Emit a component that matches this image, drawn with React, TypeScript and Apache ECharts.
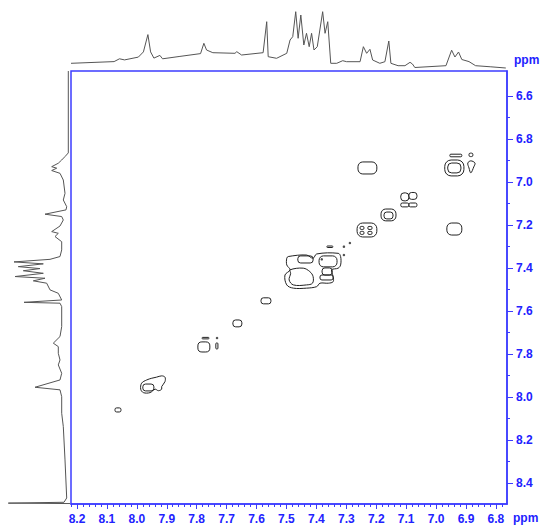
import React, { useEffect, useRef } from "react";
import * as echarts from "echarts";

// Axis ranges (ppm) of the 2D frame
const X_LEFT = 8.22;
const X_RIGHT = 6.763;
const Y_TOP = 6.484;
const Y_BOTTOM = 8.498;

// Tick labels
const xTickLabels = [8.2, 8.1, 8.0, 7.9, 7.8, 7.7, 7.6, 7.5, 7.4, 7.3, 7.2, 7.1, 7.0, 6.9, 6.8];
const yTickLabels = [6.6, 6.8, 7.0, 7.2, 7.4, 7.6, 7.8, 8.0, 8.2, 8.4];

// Top projection (F2): [ppm, intensity]
const topSpectrum: [number, number][] = [
  [8.22, 7.7], [8.076, 9.4], [8.058, 12.2], [8.041, 11.1], [7.995, 13.9], [7.978, 19.1],
  [7.963, 36.4], [7.954, 19.1], [7.943, 12.9], [7.923, 15.6], [7.914, 12.2], [7.856, 14.6],
  [7.787, 17.4], [7.776, 27.7], [7.767, 21], [7.746, 18.3], [7.672, 17.7], [7.666, 19.3],
  [7.65, 16], [7.578, 18.3], [7.566, 49.3], [7.561, 14.3], [7.533, 12.7], [7.499, 17.7],
  [7.488, 31], [7.479, 34.3], [7.469, 59.3], [7.461, 32.7], [7.452, 56], [7.442, 26],
  [7.433, 37.7], [7.424, 24.3], [7.416, 37.7], [7.408, 21], [7.397, 24.3], [7.379, 59.3],
  [7.371, 37.7], [7.362, 49.3], [7.352, 7.7], [7.332, 7.7], [7.312, 10.3], [7.299, 9.3],
  [7.254, 9.3], [7.243, 24.3], [7.232, 17.7], [7.221, 21.7], [7.212, 11], [7.188, 7.7],
  [7.171, 9.3], [7.158, 30], [7.151, 7.7], [7.127, 5.3], [7.104, 5.3], [7.087, 8.7],
  [7.079, 7], [7.071, 3.5], [6.967, 5.3], [6.948, 20.8], [6.937, 14], [6.925, 19],
  [6.914, 11.5], [6.89, 9.4], [6.868, 5.3], [6.817, 4.2], [6.767, 3],
];

// Left projection (F1): [ppm, intensity]
const leftSpectrum: [number, number][] = [
  [6.484, 2.7], [6.865, 2.7], [6.882, 6], [6.898, 9.3], [6.913, 12.7], [6.929, 19.3],
  [6.936, 14.3], [6.947, 19.3], [6.96, 11], [6.991, 7.7], [7.053, 6], [7.084, 7.7],
  [7.115, 4.3], [7.13, 5], [7.15, 26], [7.161, 9.3], [7.177, 7.7], [7.205, 11],
  [7.231, 19.3], [7.239, 12.7], [7.254, 16], [7.278, 9.3], [7.316, 9.3], [7.347, 11],
  [7.36, 21], [7.372, 57], [7.381, 27.7], [7.394, 52.7], [7.403, 31], [7.413, 47.7],
  [7.425, 27.7], [7.44, 56], [7.448, 26], [7.46, 37.7], [7.471, 24.3], [7.502, 21],
  [7.518, 12.7], [7.549, 9.3], [7.56, 47], [7.564, 11], [7.58, 9.3], [7.673, 9.3],
  [7.719, 11], [7.75, 17.7], [7.766, 12.7], [7.797, 12.7], [7.828, 11], [7.851, 12.7],
  [7.89, 9.3], [7.921, 11], [7.955, 36], [7.967, 11], [7.999, 9.3], [8.076, 9.3],
  [8.138, 7.7], [8.293, 6], [8.47, 4.3], [8.49, 7], [8.494, 62.7], [8.496, 1],
];

// Contours drawn as rounded boxes: [x1, x2, y1, y2] (ppm)
const contourBoxes: number[][] = [
  [7.261, 7.198, 6.907, 6.963],
  [6.971, 6.907, 6.898, 6.972],
  [6.961, 6.917, 6.912, 6.958],
  [6.954, 6.914, 6.871, 6.883],
  [6.89, 6.877, 6.866, 6.882],
  [7.118, 7.091, 7.051, 7.088],
  [7.091, 7.064, 7.049, 7.081],
  [7.118, 7.091, 7.098, 7.116],
  [7.091, 7.064, 7.098, 7.116],
  [7.184, 7.134, 7.126, 7.181],
  [7.174, 7.144, 7.14, 7.172],
  [7.264, 7.198, 7.191, 7.256],
  [7.254, 7.241, 7.207, 7.221],
  [7.228, 7.214, 7.207, 7.221],
  [7.254, 7.241, 7.23, 7.244],
  [7.228, 7.214, 7.23, 7.244],
  [6.964, 6.914, 7.191, 7.247],
  [7.365, 7.345, 7.298, 7.305],
  [7.391, 7.331, 7.344, 7.395],
  [7.462, 7.411, 7.344, 7.377],
  [7.381, 7.347, 7.4, 7.433],
  [7.388, 7.344, 7.433, 7.456],
  [7.585, 7.552, 7.539, 7.567],
  [7.679, 7.649, 7.642, 7.674],
  [7.796, 7.756, 7.744, 7.791],
  [7.782, 7.759, 7.723, 7.73],
  [7.736, 7.729, 7.749, 7.777],
  [7.98, 7.943, 7.94, 7.972],
  [8.073, 8.053, 8.051, 8.07],
];

// Irregular contours: lists of [x, y] (ppm)
const contourPolygons: number[][][] = [
  // big 7.3-7.5 cluster
  [
    [7.494, 7.347], [7.433, 7.34], [7.411, 7.355], [7.399, 7.335], [7.327, 7.332],
    [7.319, 7.347], [7.319, 7.386], [7.327, 7.401], [7.349, 7.409], [7.344, 7.44],
    [7.344, 7.464], [7.36, 7.471], [7.388, 7.471], [7.399, 7.487], [7.433, 7.494],
    [7.477, 7.494], [7.499, 7.479], [7.505, 7.433], [7.488, 7.409], [7.499, 7.386],
    [7.499, 7.355],
  ],
  [
    [7.488, 7.409], [7.444, 7.401], [7.422, 7.417], [7.411, 7.44], [7.413, 7.471],
    [7.433, 7.479], [7.477, 7.479], [7.491, 7.456], [7.486, 7.425],
  ],
  // 7.95 diagonal peak
  [
    [7.984, 7.936], [7.967, 7.921], [7.95, 7.913], [7.934, 7.908], [7.917, 7.902],
    [7.906, 7.908], [7.906, 7.929], [7.917, 7.952], [7.917, 7.964], [7.928, 7.971],
    [7.939, 7.964], [7.956, 7.98], [7.978, 7.98], [7.987, 7.964],
  ],
  // tear drop near 6.88 / 6.93
  [[6.894, 6.912], [6.884, 6.902], [6.87, 6.912], [6.874, 6.93], [6.884, 6.958], [6.89, 6.935]],
];

// Tiny contour specks: [x, y] (ppm)
const contourDots: number[][] = [
  [7.308, 7.301], [7.288, 7.284], [7.308, 7.34], [7.382, 7.36], [7.732, 7.726],
];

const BLUE = "#2222ff";
const AXIS_BLUE = "#3c3cff";
const FONT = '"Liberation Sans", Arial, Helvetica, sans-serif';

export default function App() {
  const ref = useRef<HTMLDivElement>(null);

  useEffect(() => {
    if (!ref.current) return;
    const chart = echarts.init(ref.current, undefined, { renderer: "svg" });

    const xMinor: number[] = [];
    for (let i = 0; i < xTickLabels.length; i++) {
      for (let k = 1; k <= 4; k++) {
        const v = +(xTickLabels[i] - k * 0.02).toFixed(2);
        if (v > X_RIGHT) xMinor.push(v);
      }
    }
    xMinor.push(8.22);
    const yMinor: number[] = yTickLabels.slice(0, -1).map((v) => +(v + 0.1).toFixed(1));

    const stroke = { fill: "none", stroke: "#222", lineWidth: 1 };

    chart.setOption({
      animation: false,
      grid: [
        { left: 71, top: 71, width: 436, height: 433, show: true, borderColor: AXIS_BLUE, borderWidth: 1.5, backgroundColor: "transparent" },
        { left: 71, top: 5, width: 436, height: 66 },
        { left: 0, top: 71, width: 71, height: 433 },
      ],
      xAxis: [
        {
          gridIndex: 0, type: "value", min: X_RIGHT, max: X_LEFT, inverse: true, position: "bottom",
          axisLine: { show: true, onZero: false, lineStyle: { color: AXIS_BLUE, width: 1.5 } },
          axisTick: { show: true, customValues: xTickLabels, length: 5, lineStyle: { color: AXIS_BLUE } },
          axisLabel: {
            customValues: xTickLabels, formatter: (v: number) => v.toFixed(1), color: BLUE,
            fontWeight: "bold", fontSize: 12, fontFamily: FONT, margin: 9,
          },
          splitLine: { show: false },
        },
        {
          gridIndex: 0, type: "value", min: X_RIGHT, max: X_LEFT, inverse: true, position: "bottom",
          axisLine: { show: false, onZero: false },
          axisTick: { show: true, customValues: xMinor, length: 3, lineStyle: { color: AXIS_BLUE } },
          axisLabel: { show: false },
          splitLine: { show: false },
        },
        { gridIndex: 1, type: "value", min: X_RIGHT, max: X_LEFT, inverse: true, show: false },
        { gridIndex: 2, type: "value", min: 0, max: 71, inverse: true, show: false },
      ],
      yAxis: [
        {
          gridIndex: 0, type: "value", min: Y_TOP, max: Y_BOTTOM, inverse: true, position: "right",
          axisLine: { show: true, onZero: false, lineStyle: { color: AXIS_BLUE, width: 1.5 } },
          axisTick: { show: true, customValues: yTickLabels, length: 6, lineStyle: { color: AXIS_BLUE } },
          axisLabel: {
            customValues: yTickLabels, formatter: (v: number) => v.toFixed(1), color: BLUE,
            fontWeight: "bold", fontSize: 12, fontFamily: FONT, margin: 9,
          },
          splitLine: { show: false },
        },
        {
          gridIndex: 0, type: "value", min: Y_TOP, max: Y_BOTTOM, inverse: true, position: "right",
          axisLine: { show: false, onZero: false },
          axisTick: { show: true, customValues: yMinor, length: 3, lineStyle: { color: AXIS_BLUE } },
          axisLabel: { show: false },
          splitLine: { show: false },
        },
        { gridIndex: 1, type: "value", min: 0, max: 66, show: false },
        { gridIndex: 2, type: "value", min: Y_TOP, max: Y_BOTTOM, inverse: true, show: false },
      ],
      graphic: [
        { type: "text", left: 513, top: 512, style: { text: "ppm", fill: BLUE, font: `bold 12px ${FONT}` } },
        { type: "text", left: 514, top: 54, style: { text: "ppm", fill: BLUE, font: `bold 12px ${FONT}` } },
      ],
      series: [
        {
          type: "line", xAxisIndex: 2, yAxisIndex: 2, data: topSpectrum, showSymbol: false, silent: true,
          lineStyle: { color: "#555", width: 1 },
        },
        {
          type: "line", xAxisIndex: 3, yAxisIndex: 3, data: leftSpectrum.map(([p, i]) => [i, p]),
          showSymbol: false, silent: true, lineStyle: { color: "#555", width: 1 },
        },
        {
          type: "custom", xAxisIndex: 0, yAxisIndex: 0, data: contourBoxes, silent: true, clip: true,
          renderItem: (_p: any, api: any) => {
            const a = api.coord([api.value(0), api.value(2)]);
            const b = api.coord([api.value(1), api.value(3)]);
            const x = Math.min(a[0], b[0]);
            const y = Math.min(a[1], b[1]);
            const w = Math.abs(a[0] - b[0]);
            const h = Math.abs(a[1] - b[1]);
            return { type: "rect", shape: { x, y, width: w, height: h, r: Math.min(w, h) * 0.4 }, style: stroke };
          },
        },
        {
          type: "custom", xAxisIndex: 0, yAxisIndex: 0, silent: true, clip: true,
          data: contourPolygons.map((pts, i) => [pts[0][0], pts[0][1], i]),
          renderItem: (_p: any, api: any) => {
            const pts = contourPolygons[api.value(2)].map((p) => api.coord(p));
            return { type: "polygon", shape: { points: pts, smooth: 0.35 }, style: stroke };
          },
        },
        {
          type: "scatter", xAxisIndex: 0, yAxisIndex: 0, data: contourDots, symbolSize: 2.5, silent: true,
          itemStyle: { color: "#222" },
        },
      ],
    });

    return () => chart.dispose();
  }, []);

  return <div ref={ref} style={{ position: "absolute", left: 0, top: 0, width: 542, height: 527 }} />;
}
